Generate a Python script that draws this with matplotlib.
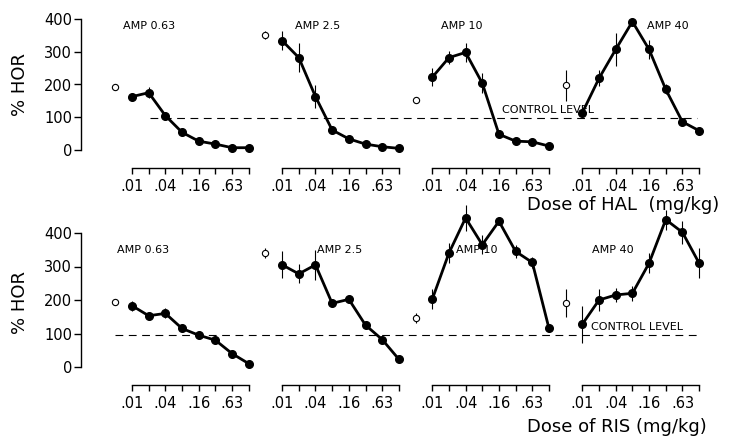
import matplotlib
matplotlib.use('Agg')
import matplotlib.pyplot as plt
from matplotlib import font_manager

W, H = 749, 436

# ---------------- data ----------------
panel_titles = ['AMP 0.63', 'AMP 2.5', 'AMP 10', 'AMP 40']
dose_labels = ['.01', '.04', '.16', '.63']

hal_vals = [
    [163, 175, 105, 54, 27, 18, 7, 7],
    [334, 282, 163, 61, 34, 18, 10, 5],
    [222, 282, 298, 204, 48, 27, 25, 12],
    [114, 219, 307, 392, 307, 185, 86, 59],
]
hal_err = [
    [8, 16, 6, 4, 4, 4, 3, 3],
    [30, 45, 35, 6, 5, 4, 3, 3],
    [28, 20, 28, 30, 6, 5, 4, 4],
    [6, 25, 50, 8, 30, 15, 10, 5],
]
hal_ctrl = [191, 351, 153, 198]
hal_ctrl_err = [0, 12, 0, 47]
hal_level = 97

ris_vals = [
    [183, 153, 160, 115, 95, 80, 40, 10],
    [305, 278, 305, 190, 202, 125, 82, 23],
    [202, 340, 445, 365, 435, 345, 312, 115],
    [128, 200, 215, 220, 310, 440, 402, 310],
]
ris_err = [
    [15, 6, 15, 6, 6, 5, 5, 4],
    [40, 28, 45, 8, 8, 6, 6, 4],
    [30, 30, 40, 28, 8, 20, 15, 6],
    [55, 32, 20, 22, 30, 30, 35, 45],
]
ris_ctrl = [193, 340, 145, 190]
ris_ctrl_err = [0, 15, 15, 42]
ris_level = 95

rows = [
    dict(vals=hal_vals, err=hal_err, ctrl=hal_ctrl, cerr=hal_ctrl_err, level=hal_level,
         y0=150, y400=19, xline=168, lvl_start=1.08, title_y=379,
         title_x=[-0.54, 9.77, 18.5, 30.9], ctl_xy=(22.2, 122),
         xlabel='Dose of HAL  (mg/kg)', xlabel_y=205),
    dict(vals=ris_vals, err=ris_err, ctrl=ris_ctrl, cerr=ris_ctrl_err, level=ris_level,
         y0=367, y400=233, xline=385, lvl_start=-1.0, title_y=348,
         title_x=[-0.9, 11.1, 19.4, 27.6], ctl_xy=(27.5, 120),
         xlabel='Dose of RIS (mg/kg)', xlabel_y=427),
]

# narrow font if available
names = {f.name for f in font_manager.fontManager.ttflist}
NARROW = 'Liberation Sans Narrow' if 'Liberation Sans Narrow' in names else 'DejaVu Sans'
TICK_FS = 12.5 if NARROW != 'DejaVu Sans' else 10.5

# ---------------- layout ----------------
X_LEFT_PX, X_RIGHT_PX = 81, 716
P0_PX, STEP_PX = 132, 16.68
PANEL_GAP = 9  # units between panel starts
XMIN = (X_LEFT_PX - P0_PX) / STEP_PX
XMAX = (X_RIGHT_PX - P0_PX) / STEP_PX

fig = plt.figure(figsize=(W / 100, H / 100), dpi=100)
fig.patch.set_facecolor('white')

for row in rows:
    ax = fig.add_axes([X_LEFT_PX / W, 1 - row['y0'] / H,
                       (X_RIGHT_PX - X_LEFT_PX) / W, (row['y0'] - row['y400']) / H])
    ax.set_xlim(XMIN, XMAX)
    ax.set_ylim(0, 400)
    ax.patch.set_alpha(0)
    for s in ['top', 'right', 'bottom']:
        ax.spines[s].set_visible(False)
    ax.spines['left'].set_linewidth(1.0)
    ax.set_xticks([])
    ax.set_yticks([0, 100, 200, 300, 400])
    ax.tick_params(axis='y', direction='out', length=5, width=1.0, pad=1.5, labelsize=TICK_FS)
    for lab in ax.get_yticklabels():
        lab.set_fontfamily(NARROW)

    # control level dashed line
    ax.plot([row['lvl_start'], 33.9], [row['level'], row['level']], color='black',
            lw=0.8, dashes=(7, 5), clip_on=False)

    for p in range(4):
        xs = [PANEL_GAP * p + i for i in range(8)]
        ax.errorbar(xs, row['vals'][p], yerr=row['err'][p], fmt='none',
                    ecolor='black', elinewidth=0.8, capsize=0, clip_on=False)
        ax.plot(xs, row['vals'][p], color='black', lw=2.0, marker='o', markersize=5.5,
                markerfacecolor='black', clip_on=False, zorder=3)
        xc = PANEL_GAP * p - 1
        if row['cerr'][p] > 0:
            ax.errorbar([xc], [row['ctrl'][p]], yerr=[row['cerr'][p]], fmt='none',
                        ecolor='black', elinewidth=0.8, capsize=0, clip_on=False)
        ax.plot([xc], [row['ctrl'][p]], marker='o', markersize=4.5, markerfacecolor='white',
                markeredgecolor='black', markeredgewidth=0.8, linestyle='none',
                clip_on=False, zorder=4)
        ax.text(row['title_x'][p], row['title_y'], panel_titles[p], fontsize=8,
                ha='left', va='center', family='DejaVu Sans')

        # per-panel dose axis
        left_px = P0_PX + STEP_PX * PANEL_GAP * p
        xa = fig.add_axes([left_px / W, 1 - row['xline'] / H, STEP_PX * 7 / W, 0.0005])
        xa.set_xlim(0, 7)
        xa.patch.set_alpha(0)
        for s in ['top', 'right', 'left']:
            xa.spines[s].set_visible(False)
        xa.spines['bottom'].set_linewidth(1.0)
        xa.set_yticks([])
        xa.set_xticks(range(8))
        xa.set_xticklabels([dose_labels[i // 2] if i % 2 == 0 else '' for i in range(8)])
        xa.tick_params(axis='x', direction='out', length=4, width=1.0, pad=4, labelsize=TICK_FS)
        for lab in xa.get_xticklabels():
            lab.set_fontfamily(NARROW)

    ax.text(*row['ctl_xy'], 'CONTROL LEVEL', fontsize=8, ha='left', va='center')
    fig.text(527 / W, 1 - row['xlabel_y'] / H, row['xlabel'], fontsize=13,
             ha='left', va='center')

# y labels
fig.text(20 / W, 1 - 85 / H, '% HOR', rotation=90, fontsize=13, ha='center', va='center')
fig.text(20 / W, 1 - 302 / H, '% HOR', rotation=90, fontsize=13, ha='center', va='center')

fig.savefig('out.png', dpi=100, facecolor='white')
